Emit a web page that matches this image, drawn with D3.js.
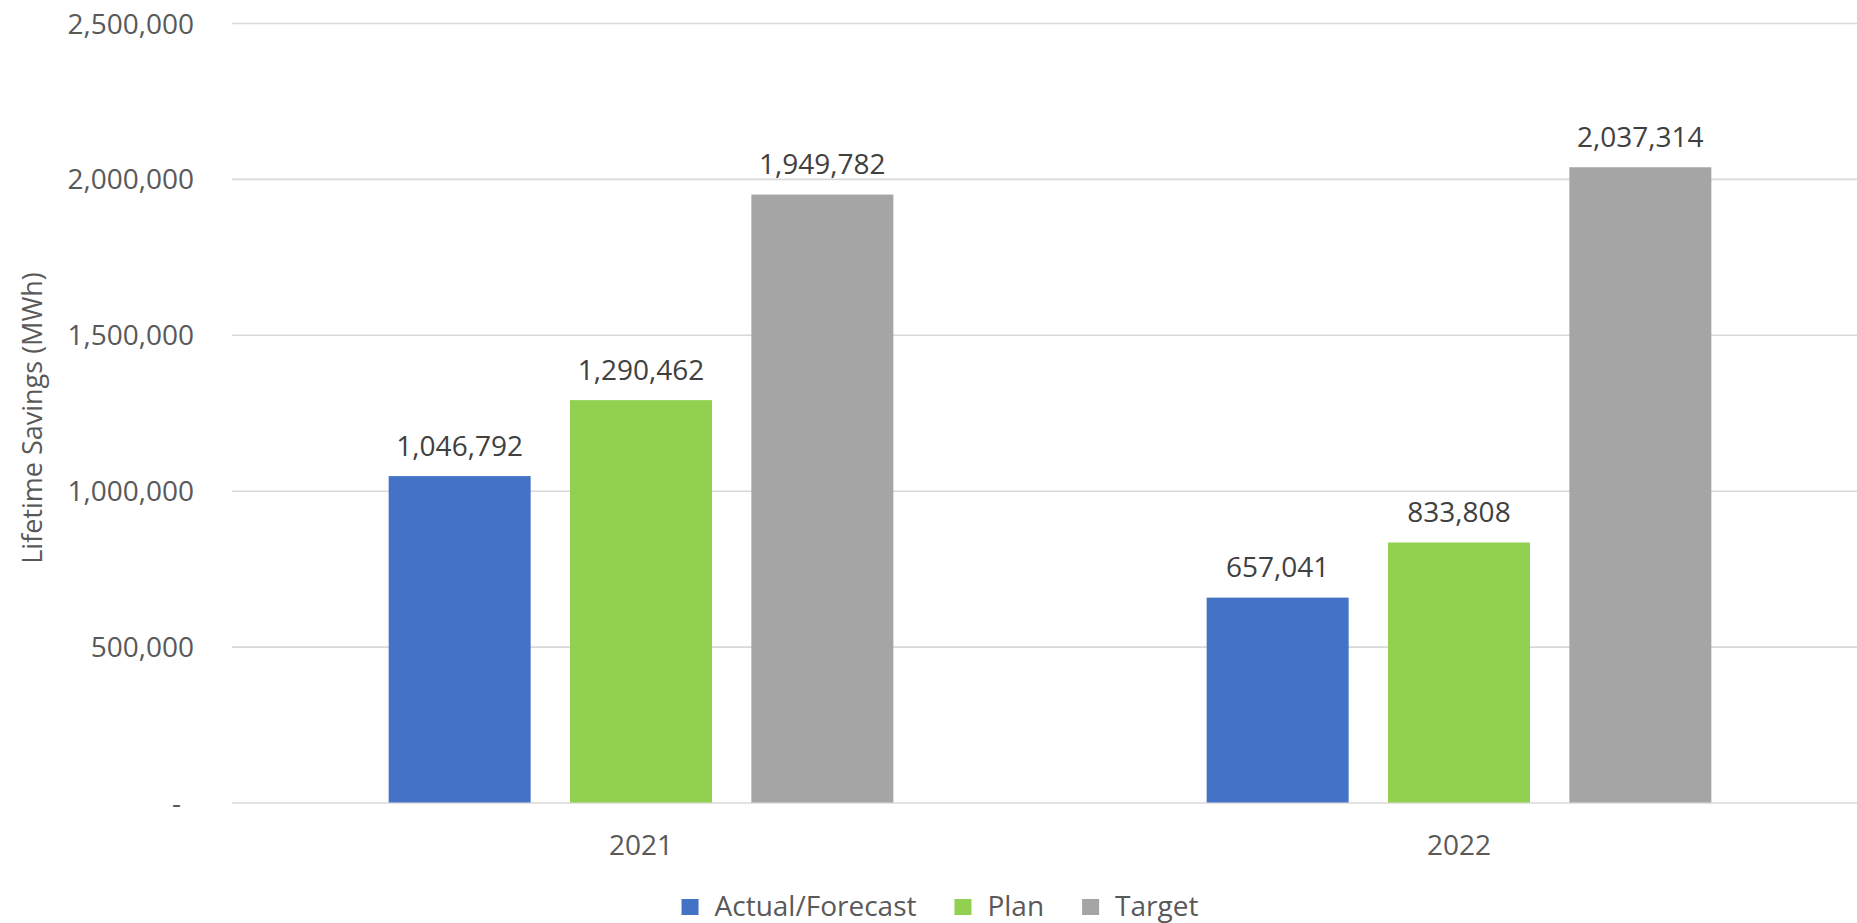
<!DOCTYPE html>
<html>
<head>
<meta charset="utf-8">
<script src="https://cdn.jsdelivr.net/npm/d3@7/dist/d3.min.js"></script>
<style>
  html, body { margin: 0; padding: 0; background: #ffffff; }
  svg { display: block; font-family: "Open Sans", "Noto Sans", sans-serif; }
</style>
</head>
<body>
<svg id="chart" width="1857" height="923"></svg>
<script>
// ---- data ----
const categories = ["2021", "2022"];
const seriesNames = ["Actual/Forecast", "Plan", "Target"];
const actualForecast = [1046792, 657041];
const plan = [1290462, 833808];
const target = [1949782, 2037314];
const yTickValues = [0, 500000, 1000000, 1500000, 2000000, 2500000];
const seriesColors = ["#4472C4", "#92D050", "#A5A5A5"];
const yTitle = "Lifetime Savings (MWh)";

const seriesValues = [actualForecast, plan, target];

// ---- layout ----
const W = 1857, H = 923;
const plotLeft = 232, plotRight = 1868, plotTop = 23, plotBottom = 802.5;
const fontSize = 28;

const svg = d3.select("#chart");

const x0 = d3.scaleBand()
  .domain(categories)
  .range([plotLeft, plotRight])
  .paddingInner(0.383)
  .paddingOuter(0.1915);

const x1 = d3.scaleBand()
  .domain(seriesNames)
  .range([0, x0.bandwidth()])
  .paddingInner(0.217)
  .paddingOuter(0);

const y = d3.scaleLinear()
  .domain([0, 2500000])
  .range([plotBottom, plotTop]);

const fmt = d3.format(",");

// ---- gridlines + y axis ----
const yAxis = d3.axisLeft(y)
  .tickValues(yTickValues)
  .tickSize(-(plotRight - plotLeft))
  .tickPadding(38)
  .tickFormat(d => d === 0 ? "-" : fmt(d));

const gy = svg.append("g")
  .attr("transform", `translate(${plotLeft},0)`)
  .call(yAxis);
gy.select(".domain").remove();
gy.selectAll(".tick line")
  .attr("stroke", "#D9D9D9")
  .attr("stroke-width", 1.6);
gy.selectAll(".tick text")
  .attr("fill", "#595959")
  .attr("font-size", fontSize)
  .attr("font-family", "Open Sans")
  .attr("dy", "0.36em")
  .attr("dx", d => d === 0 ? -13 : 0);

// ---- bars ----
const rows = categories.map((c, i) => ({
  cat: c,
  vals: seriesNames.map((s, j) => ({ series: s, value: seriesValues[j][i], color: seriesColors[j] }))
}));

const groups = svg.append("g").selectAll("g")
  .data(rows)
  .join("g")
  .attr("transform", d => `translate(${x0(d.cat)},0)`);

groups.selectAll("rect")
  .data(d => d.vals)
  .join("rect")
  .attr("x", d => x1(d.series))
  .attr("width", x1.bandwidth())
  .attr("y", d => y(d.value))
  .attr("height", d => y(0) - y(d.value))
  .attr("fill", d => d.color);

groups.selectAll("text.label")
  .data(d => d.vals)
  .join("text")
  .attr("class", "label")
  .attr("x", d => x1(d.series) + x1.bandwidth() / 2)
  .attr("y", d => y(d.value) - 20.5)
  .attr("text-anchor", "middle")
  .attr("fill", "#404040")
  .attr("font-size", fontSize)
  .text(d => fmt(d.value));

// ---- category axis labels ----
svg.append("g").selectAll("text")
  .data(categories)
  .join("text")
  .attr("x", d => x0(d) + x0.bandwidth() / 2)
  .attr("y", 855)
  .attr("text-anchor", "middle")
  .attr("fill", "#595959")
  .attr("font-size", fontSize)
  .text(d => d);

// ---- y axis title ----
svg.append("text")
  .attr("transform", "rotate(-90)")
  .attr("x", -418)
  .attr("y", 41.5)
  .attr("text-anchor", "middle")
  .attr("fill", "#595959")
  .attr("font-size", 27)
  .text(yTitle);

// ---- legend ----
const legend = svg.append("g");
const sq = 17, sqGap = 16, itemGap = 38;
let cx = 0;
seriesNames.forEach((name, i) => {
  const g = legend.append("g");
  g.append("rect")
    .attr("x", 0).attr("y", 899)
    .attr("width", sq).attr("height", 16)
    .attr("fill", seriesColors[i]);
  const t = g.append("text")
    .attr("x", sq + sqGap).attr("y", 916)
    .attr("fill", "#595959")
    .attr("font-size", fontSize)
    .text(name);
  const w = sq + sqGap + t.node().getComputedTextLength();
  g.attr("transform", `translate(${cx},0)`);
  cx += w + itemGap;
});
const totalW = cx - itemGap;
legend.attr("transform", `translate(${940 - totalW / 2},0)`);
</script>
</body>
</html>
